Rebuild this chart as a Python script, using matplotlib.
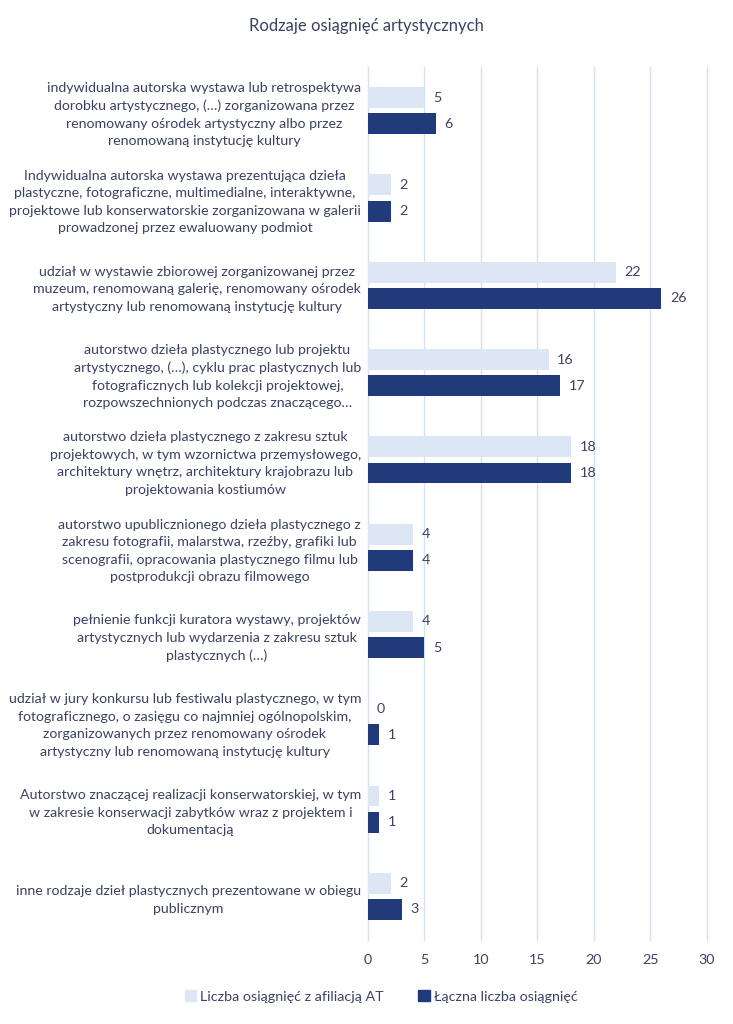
import numpy as np
import matplotlib.pyplot as plt
from matplotlib.patches import Patch

# categories and values
categories = [
    "indywidualna autorska wystawa lub retrospektywa\ndorobku artystycznego, (…) zorganizowana przez\nrenomowany ośrodek artystyczny albo przez\nrenomowaną instytucję kultury",
    "Indywidualna autorska wystawa prezentująca dzieła\nplastyczne, fotograficzne, multimedialne, interaktywne,\nprojektowe lub konserwatorskie zorganizowana w galerii\nprowadzonej przez ewaluowany podmiot",
    "udział w wystawie zbiorowej zorganizowanej przez\nmuzeum, renomowaną galerię, renomowany ośrodek\nartystyczny lub renomowaną instytucję kultury",
    "autorstwo dzieła plastycznego lub projektu\nartystycznego, (…), cyklu prac plastycznych lub\nfotograficznych lub kolekcji projektowej,\nrozpowszechnionych podczas znaczącego…",
    "autorstwo dzieła plastycznego z zakresu sztuk\nprojektowych, w tym wzornictwa przemysłowego,\narchitektury wnętrz, architektury krajobrazu lub\nprojektowania kostiumów",
    "autorstwo upublicznionego dzieła plastycznego z\nzakresu fotografii, malarstwa, rzeźby, grafiki lub\nscenografii, opracowania plastycznego filmu lub\npostprodukcji obrazu filmowego",
    "pełnienie funkcji kuratora wystawy, projektów\nartystycznych lub wydarzenia z zakresu sztuk\nplastycznych (…)",
    "udział w jury konkursu lub festiwalu plastycznego, w tym\nfotograficznego, o zasięgu co najmniej ogólnopolskim,\nzorganizowanych przez renomowany ośrodek\nartystyczny lub renomowaną instytucję kultury",
    "Autorstwo znaczącej realizacji konserwatorskiej, w tym\nw zakresie konserwacji zabytków wraz z projektem i\ndokumentacją",
    "inne rodzaje dzieł plastycznych prezentowane w obiegu\npublicznym",
]
at_values = [5, 2, 22, 16, 18, 4, 4, 0, 1, 2]
total_values = [6, 2, 26, 17, 18, 4, 5, 1, 1, 3]
series_names = ["Liczba osiągnięć z afiliacją AT", "Łączna liczba osiągnięć"]
x_ticks = [0, 5, 10, 15, 20, 25, 30]

light = "#dce6f5"
dark = "#213a7a"
text_color = "#3b4262"

plt.rcParams['font.family'] = ['Lato', 'DejaVu Sans']

fig = plt.figure(figsize=(7.33, 10.24), dpi=100)
ax = fig.add_axes([0.502, 0.082, 0.462, 0.8525])

y = np.arange(len(categories))
h = 0.24
off = 0.15
ax.barh(y - off, at_values, height=h, color=light, zorder=3)
ax.barh(y + off, total_values, height=h, color=dark, zorder=3)

for i in range(len(categories)):
    ax.text(at_values[i] + 0.75, y[i] - off, str(at_values[i]), va='center', ha='left',
            fontsize=10.3, color=text_color)
    ax.text(total_values[i] + 0.75, y[i] + off, str(total_values[i]), va='center', ha='left',
            fontsize=10.3, color=text_color)

ax.set_xlim(0, 30)
ax.set_ylim(len(categories) - 0.5, -0.5)
ax.set_xticks(x_ticks)
ax.set_xticklabels([str(t) for t in x_ticks], fontsize=10.3, color=text_color)
ax.set_yticks(y)
ax.set_yticklabels(categories, fontsize=10.2, color=text_color, multialignment='center',
                   linespacing=1.55)
ax.tick_params(axis='both', length=0)
ax.tick_params(axis='y', pad=5)
ax.tick_params(axis='x', pad=10)
ax.grid(axis='x', color='#d6e0f0', linewidth=1, zorder=0)
for gl in ax.get_xgridlines():
    gl.set_clip_on(False)
for s in ax.spines.values():
    s.set_visible(False)

fig.text(0.5, 0.975, "Rodzaje osiągnięć artystycznych", ha='center', va='center',
         fontsize=12, color=text_color)

handles = [Patch(color=light), Patch(color=dark)]
fig.legend(handles, series_names, loc='center', bbox_to_anchor=(0.52, 0.027), ncol=2,
           frameon=False, fontsize=10.3, handlelength=0.8, handleheight=0.8,
           handletextpad=0.3, columnspacing=2.4, labelcolor=text_color)

fig.savefig("out.png", dpi=100)
